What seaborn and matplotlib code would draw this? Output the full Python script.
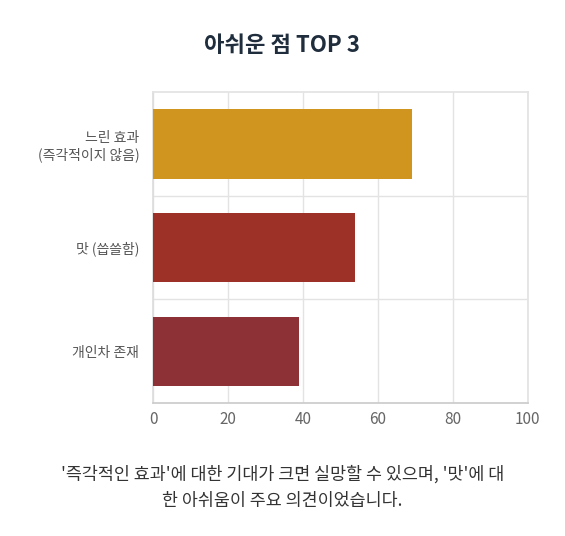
import matplotlib
matplotlib.use("Agg")
import matplotlib.pyplot as plt
import seaborn as sns
import pandas as pd

categories = ["느린 효과\n(즉각적이지 않음)", "맛 (씁쓸함)", "개인차 존재"]
values = [69, 54, 39]
colors = ["#EE9F00", "#B02115", "#9C2229"]
xticks = [0, 20, 40, 60, 80, 100]

sns.set_theme(style="white")
plt.rcParams['font.family'] = ['Noto Sans CJK KR', 'DejaVu Sans']

fig = plt.figure(figsize=(5.65, 5.36), dpi=100)
ax = fig.add_axes([0.271, 0.248, 0.663, 0.58])
df = pd.DataFrame({"cat": categories, "val": values})
sns.barplot(data=df, y="cat", x="val", hue="cat", palette=colors, legend=False,
            width=0.67, ax=ax, edgecolor="none", zorder=3)
ax.set_xlim(0, 100)
ax.set_ylim(2.5, -0.5)
ax.set_xticks(xticks)
ax.set_xlabel(""); ax.set_ylabel("")
for x in xticks:
    ax.axvline(x, color="#e3e3e3", lw=1, zorder=0)
for y in [0.5, 1.5]:
    ax.axhline(y, color="#e3e3e3", lw=1, zorder=0)
ax.set_yticks([-0.5, 0.5, 1.5, 2.5], minor=True)
ax.tick_params(axis="y", which="minor", length=8, color="#dddddd", width=1)
ax.tick_params(axis="y", which="major", length=0, labelsize=10, labelcolor="#555555", pad=10)
ax.tick_params(axis="x", length=0, labelsize=11, labelcolor="#666666", pad=6)
for s in ["top", "right"]:
    ax.spines[s].set_color("#e3e3e3")
ax.spines["left"].set_color("#dddddd")
ax.spines["bottom"].set_color("#cccccc")
for lab in ax.get_yticklabels():
    lab.set_horizontalalignment("right")
    lab.set_multialignment("right")

fig.text(0.5, 0.915, "아쉬운 점 TOP 3", ha="center", va="center", fontsize=16,
         fontweight="bold", color="#1f2d3d")
fig.text(0.5, 0.09, "'즉각적인 효과'에 대한 기대가 크면 실망할 수 있으며, '맛'에 대\n한 아쉬움이 주요 의견이었습니다.",
         ha="center", va="center", fontsize=12.5, color="#333333", linespacing=1.6)
fig.savefig("out.png", dpi=100, facecolor="white")
